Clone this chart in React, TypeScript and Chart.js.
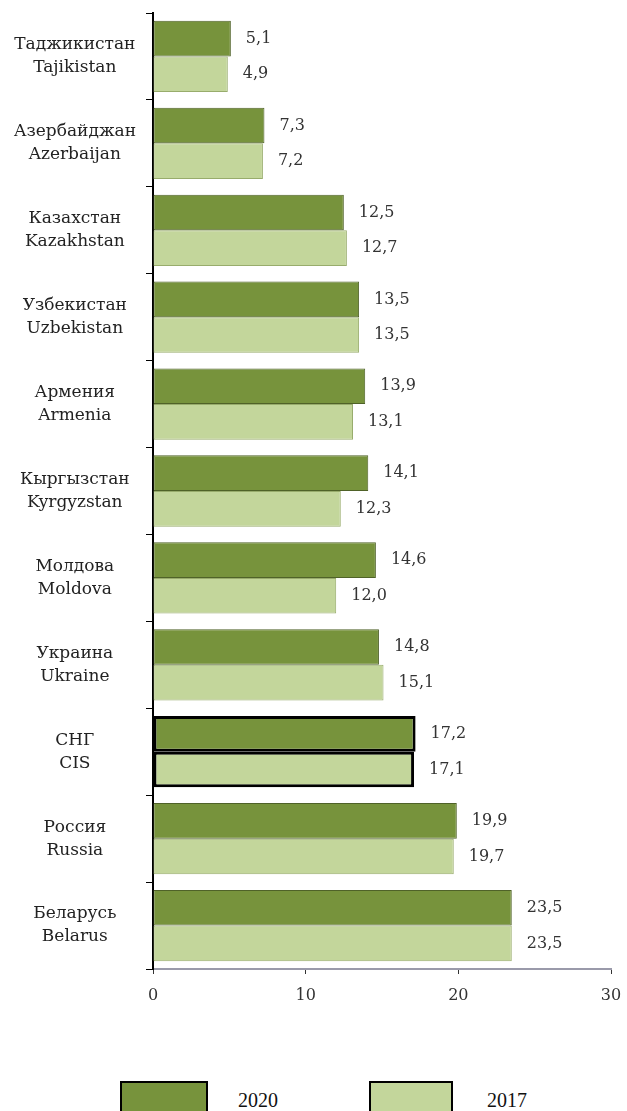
import React, { useEffect, useRef } from "react";
import { Chart, registerables } from "chart.js";

Chart.register(...registerables);

const categoriesRu = ["Таджикистан", "Азербайджан", "Казахстан", "Узбекистан", "Армения", "Кыргызстан", "Молдова", "Украина", "СНГ", "Россия", "Беларусь"];
const categoriesEn = ["Tajikistan", "Azerbaijan", "Kazakhstan", "Uzbekistan", "Armenia", "Kyrgyzstan", "Moldova", "Ukraine", "CIS", "Russia", "Belarus"];
const values2020 = [5.1, 7.3, 12.5, 13.5, 13.9, 14.1, 14.6, 14.8, 17.2, 19.9, 23.5];
const values2017 = [4.9, 7.2, 12.7, 13.5, 13.1, 12.3, 12.0, 15.1, 17.1, 19.7, 23.5];
const xTicks = [0, 10, 20, 30];
const highlightIndex = 8;

const DARK = "#77933C";
const LIGHT = "#C3D69B";
const FONT = "'DejaVu Serif', serif";
const LEGEND_FONT = "'Liberation Serif', 'Times New Roman', serif";
const CANVAS_H = 1000;

const valueLabels = {
  id: "valueLabels",
  afterDatasetsDraw(chart: any) {
    const ctx = chart.ctx;
    ctx.save();
    ctx.font = `16px ${FONT}`;
    ctx.fillStyle = "#333";
    ctx.textAlign = "left";
    ctx.textBaseline = "middle";
    chart.data.datasets.forEach((ds: any, di: number) => {
      const meta = chart.getDatasetMeta(di);
      meta.data.forEach((el: any, i: number) => {
        const v = ds.data[i] as number;
        ctx.fillText(v.toFixed(1).replace(".", ","), el.x + 15, el.y);
      });
    });
    ctx.restore();
  },
};

export default function App() {
  const ref = useRef<HTMLCanvasElement>(null);
  useEffect(() => {
    if (!ref.current) return;
    const labels = categoriesRu.map((r, i) => [r, categoriesEn[i]]);
    const chart = new Chart(ref.current, {
      type: "bar",
      data: {
        labels,
        datasets: [
          {
            label: "2020",
            data: values2020,
            backgroundColor: DARK,
            borderColor: values2020.map((_, i) => (i === highlightIndex ? "#000" : "#4F6228")),
            borderWidth: values2020.map((_, i) => (i === highlightIndex ? 3 : 1)),
            borderSkipped: false,
            categoryPercentage: 0.82,
            barPercentage: 1,
          },
          {
            label: "2017",
            data: values2017,
            backgroundColor: LIGHT,
            borderColor: values2017.map((_, i) => (i === highlightIndex ? "#000" : "#98AC6C")),
            borderWidth: values2017.map((_, i) => (i === highlightIndex ? 3 : 1)),
            borderSkipped: false,
            categoryPercentage: 0.82,
            barPercentage: 1,
          },
        ],
      },
      options: {
        indexAxis: "y",
        animation: false,
        responsive: false,
        maintainAspectRatio: false,
        layout: { padding: { top: 13, right: 16, left: 0, bottom: 0 } },
        plugins: { legend: { display: false }, tooltip: { enabled: false } },
        scales: {
          x: {
            min: 0,
            max: 30,
            afterBuildTicks(scale: any) {
              scale.ticks = xTicks.map((v) => ({ value: v }));
            },
            afterFit(scale: any) {
              scale.height = CANVAS_H - 969;
              scale.paddingLeft = 0;
              scale.paddingRight = 0;
            },
            grid: { drawOnChartArea: false, drawTicks: true, tickLength: 5, color: "#333" },
            border: { color: "#9a9aaa", width: 2 },
            ticks: { font: { family: FONT, size: 16 }, color: "#333", padding: 12 },
          },
          y: {
            afterFit(scale: any) {
              scale.width = 153;
              scale.paddingTop = 0;
              scale.paddingBottom = 0;
            },
            grid: { drawOnChartArea: false, drawTicks: true, tickLength: 7, offset: true, color: "#000" },
            border: { color: "#000", width: 2 },
            ticks: {
              font: { family: FONT, size: 17, lineHeight: 1.35 },
              color: "#222",
              crossAlign: "center",
              padding: 10,
            },
          },
        },
      },
      plugins: [valueLabels],
    } as any);
    return () => chart.destroy();
  }, []);

  const boxStyle = (left: number, width: number, bg: string): React.CSSProperties => ({
    position: "absolute",
    left,
    top: 1081,
    width,
    height: 40,
    background: bg,
    border: "2px solid #000",
    boxSizing: "border-box",
  });
  const textStyle = (left: number): React.CSSProperties => ({
    position: "absolute",
    left,
    top: 1088,
    fontFamily: LEGEND_FONT,
    fontSize: 20,
    color: "#111",
    lineHeight: "24px",
  });

  return (
    <div style={{ position: "absolute", left: 0, top: 0, width: 627, height: 1111, overflow: "hidden", background: "#fff" }}>
      <canvas ref={ref} width={627} height={CANVAS_H} style={{ display: "block" }} />
      <div style={boxStyle(120, 88, DARK)} />
      <div style={textStyle(238)}>2020</div>
      <div style={boxStyle(369, 84, LIGHT)} />
      <div style={textStyle(487)}>2017</div>
    </div>
  );
}
